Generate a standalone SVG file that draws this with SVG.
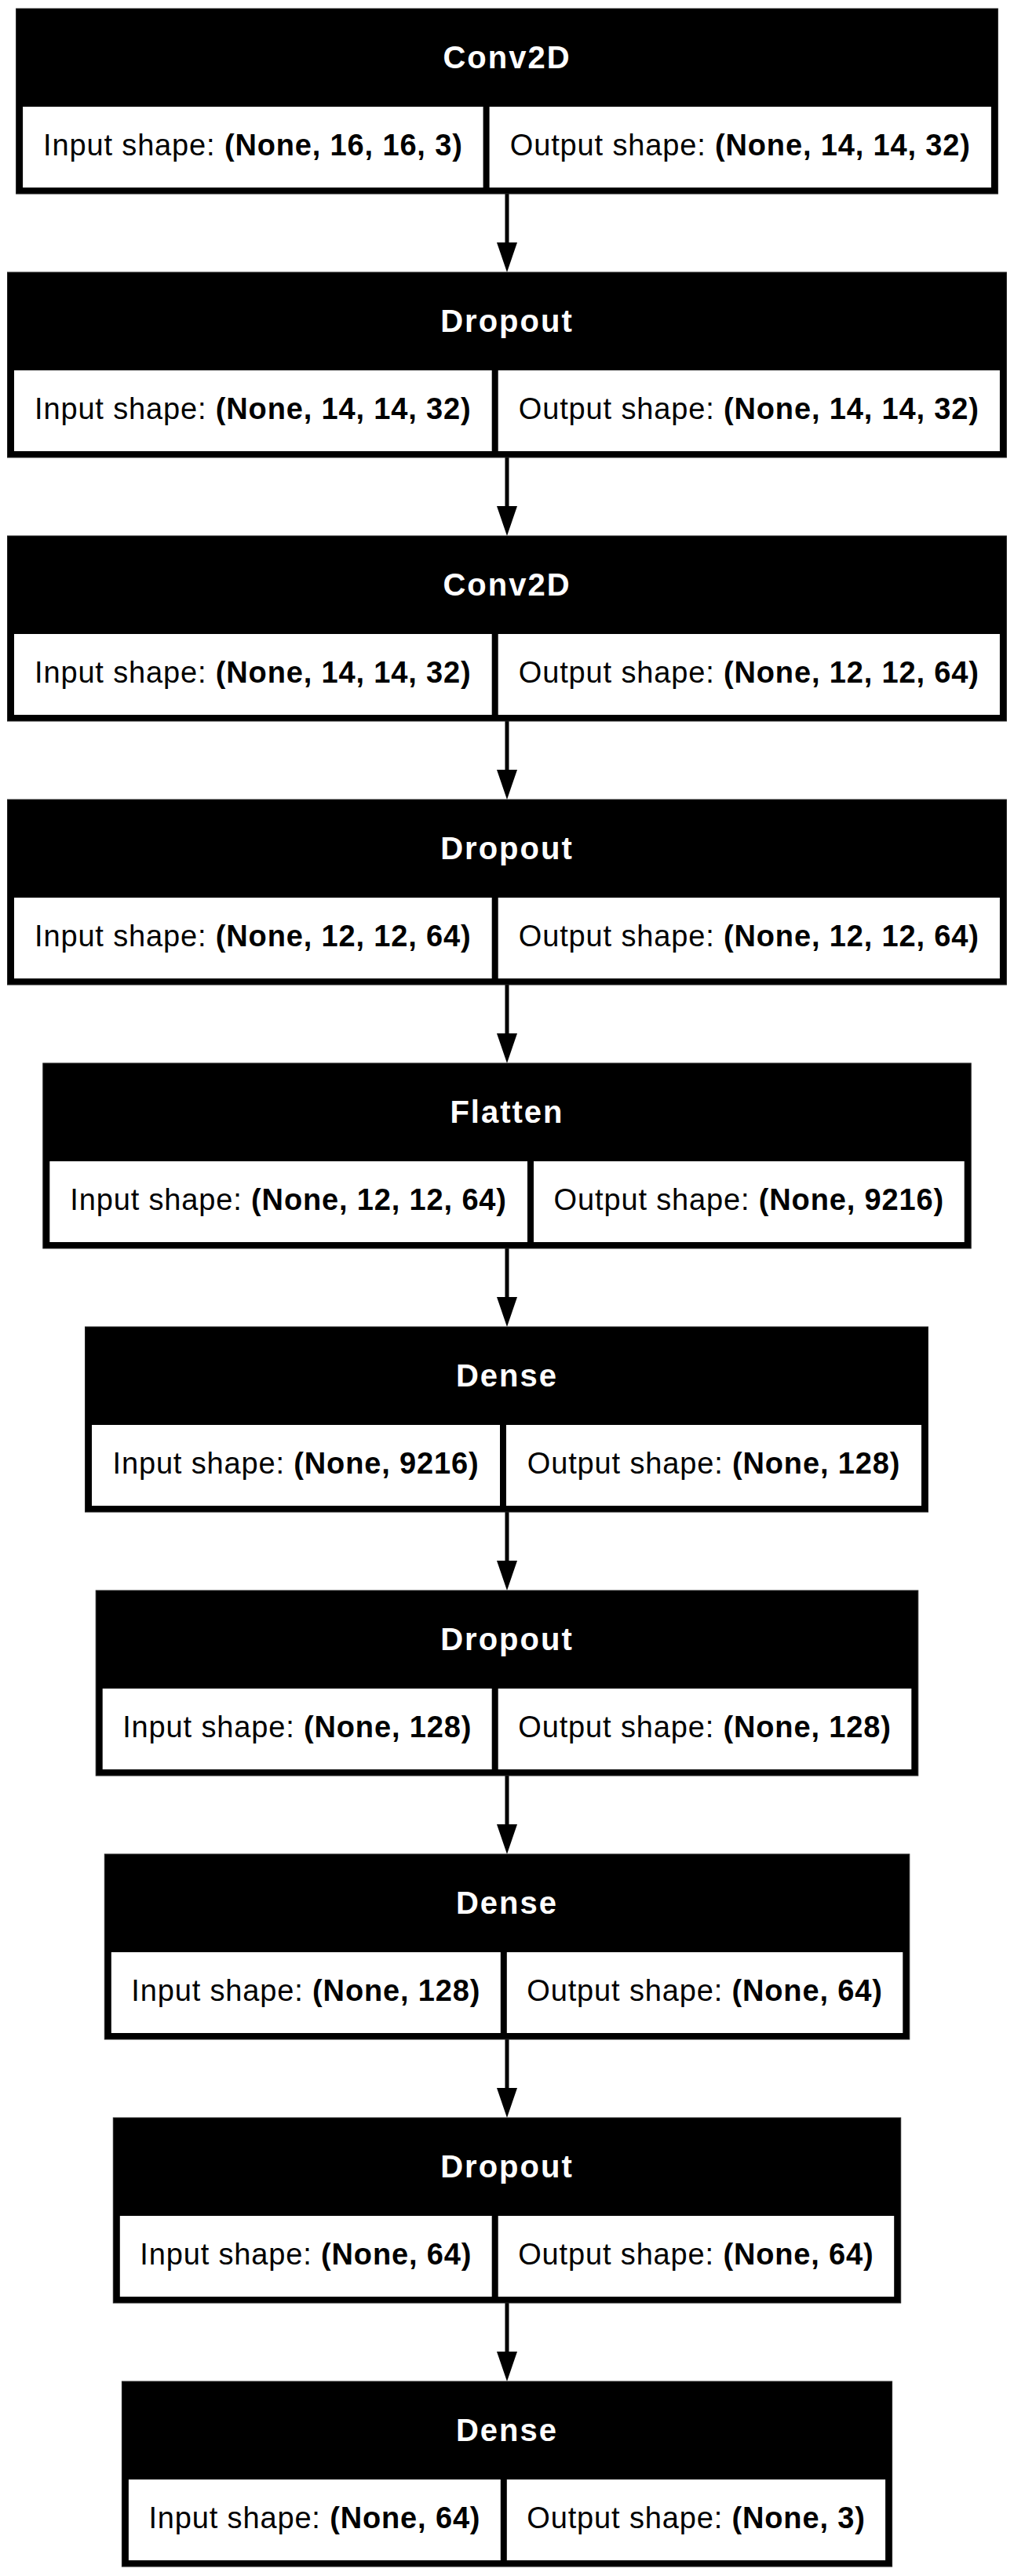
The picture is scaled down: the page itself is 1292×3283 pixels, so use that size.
<svg xmlns="http://www.w3.org/2000/svg" width="1292" height="3283" viewBox="0 0 1292 3283">
<defs>
<style>
.frame{fill:#000;stroke:#222;stroke-width:1}
.cell{fill:#fff}
.hd{fill:#fff;font-family:"Liberation Sans",Arial,sans-serif;font-weight:bold;font-size:40px;letter-spacing:2px;text-anchor:middle}
.tx{fill:#000;font-family:"Liberation Sans",Arial,sans-serif;font-size:38px;letter-spacing:0.85px;text-anchor:middle}
.b{font-weight:bold}
.edge{stroke:#000;stroke-width:5;fill:none;marker-end:url(#ah)}
</style>
<marker id="ah" markerUnits="userSpaceOnUse" markerWidth="38" markerHeight="26" viewBox="0 0 38 26" refX="0" refY="13" orient="auto">
<path d="M0,0 L38,13 L0,26 Z" fill="#000"/>
</marker>
</defs>
<rect width="1292" height="3283" fill="#fff"/>
<g id="edges">
<line id="e1" class="edge" x1="646" y1="247" x2="646" y2="309"/>
<line id="e2" class="edge" x1="646" y1="583" x2="646" y2="645"/>
<line id="e3" class="edge" x1="646" y1="919" x2="646" y2="981"/>
<line id="e4" class="edge" x1="646" y1="1255" x2="646" y2="1317"/>
<line id="e5" class="edge" x1="646" y1="1591" x2="646" y2="1653"/>
<line id="e6" class="edge" x1="646" y1="1927" x2="646" y2="1989"/>
<line id="e7" class="edge" x1="646" y1="2263" x2="646" y2="2325"/>
<line id="e8" class="edge" x1="646" y1="2599" x2="646" y2="2661"/>
<line id="e9" class="edge" x1="646" y1="2935" x2="646" y2="2997"/>
</g>
<g id="n1">
<rect class="frame" x="20.6" y="11" width="1250.8" height="236"/>
<rect class="cell" x="29.1" y="136" width="586.5" height="103"/>
<rect class="cell" x="623.6" y="136" width="639.3" height="103"/>
<text class="hd" x="646" y="87">Conv2D</text>
<text class="tx" x="322.4" y="198">Input shape: <tspan class="b">(None, 16, 16, 3)</tspan></text>
<text class="tx" x="943.3" y="198">Output shape: <tspan class="b">(None, 14, 14, 32)</tspan></text>
</g>
<g id="n2">
<rect class="frame" x="9.5" y="347" width="1272.9" height="236"/>
<rect class="cell" x="18" y="472" width="608.7" height="103"/>
<rect class="cell" x="634.7" y="472" width="639.2" height="103"/>
<text class="hd" x="646" y="423">Dropout</text>
<text class="tx" x="322.3" y="534">Input shape: <tspan class="b">(None, 14, 14, 32)</tspan></text>
<text class="tx" x="954.3" y="534">Output shape: <tspan class="b">(None, 14, 14, 32)</tspan></text>
</g>
<g id="n3">
<rect class="frame" x="9.5" y="683" width="1272.9" height="236"/>
<rect class="cell" x="18" y="808" width="608.7" height="103"/>
<rect class="cell" x="634.7" y="808" width="639.2" height="103"/>
<text class="hd" x="646" y="759">Conv2D</text>
<text class="tx" x="322.3" y="870">Input shape: <tspan class="b">(None, 14, 14, 32)</tspan></text>
<text class="tx" x="954.3" y="870">Output shape: <tspan class="b">(None, 12, 12, 64)</tspan></text>
</g>
<g id="n4">
<rect class="frame" x="9.5" y="1019" width="1272.9" height="236"/>
<rect class="cell" x="18" y="1144" width="608.7" height="103"/>
<rect class="cell" x="634.7" y="1144" width="639.2" height="103"/>
<text class="hd" x="646" y="1095">Dropout</text>
<text class="tx" x="322.3" y="1206">Input shape: <tspan class="b">(None, 12, 12, 64)</tspan></text>
<text class="tx" x="954.3" y="1206">Output shape: <tspan class="b">(None, 12, 12, 64)</tspan></text>
</g>
<g id="n5">
<rect class="frame" x="54.8" y="1355" width="1182.4" height="236"/>
<rect class="cell" x="63.3" y="1480" width="608.7" height="103"/>
<rect class="cell" x="680" y="1480" width="548.7" height="103"/>
<text class="hd" x="646" y="1431">Flatten</text>
<text class="tx" x="367.6" y="1542">Input shape: <tspan class="b">(None, 12, 12, 64)</tspan></text>
<text class="tx" x="954.3" y="1542">Output shape: <tspan class="b">(None, 9216)</tspan></text>
</g>
<g id="n6">
<rect class="frame" x="108.5" y="1691" width="1074" height="236"/>
<rect class="cell" x="117" y="1816" width="520" height="103"/>
<rect class="cell" x="645" y="1816" width="529" height="103"/>
<text class="hd" x="646" y="1767">Dense</text>
<text class="tx" x="377" y="1878">Input shape: <tspan class="b">(None, 9216)</tspan></text>
<text class="tx" x="909.5" y="1878">Output shape: <tspan class="b">(None, 128)</tspan></text>
</g>
<g id="n7">
<rect class="frame" x="122.2" y="2027" width="1047.6" height="236"/>
<rect class="cell" x="130.7" y="2152" width="496" height="103"/>
<rect class="cell" x="634.7" y="2152" width="526.6" height="103"/>
<text class="hd" x="646" y="2103">Dropout</text>
<text class="tx" x="378.7" y="2214">Input shape: <tspan class="b">(None, 128)</tspan></text>
<text class="tx" x="898" y="2214">Output shape: <tspan class="b">(None, 128)</tspan></text>
</g>
<g id="n8">
<rect class="frame" x="133.3" y="2363" width="1025.5" height="236"/>
<rect class="cell" x="141.8" y="2488" width="496" height="103"/>
<rect class="cell" x="645.8" y="2488" width="504.5" height="103"/>
<text class="hd" x="646" y="2439">Dense</text>
<text class="tx" x="389.8" y="2550">Input shape: <tspan class="b">(None, 128)</tspan></text>
<text class="tx" x="898" y="2550">Output shape: <tspan class="b">(None, 64)</tspan></text>
</g>
<g id="n9">
<rect class="frame" x="144.3" y="2699" width="1003.4" height="236"/>
<rect class="cell" x="152.8" y="2824" width="473.9" height="103"/>
<rect class="cell" x="634.7" y="2824" width="504.5" height="103"/>
<text class="hd" x="646" y="2775">Dropout</text>
<text class="tx" x="389.8" y="2886">Input shape: <tspan class="b">(None, 64)</tspan></text>
<text class="tx" x="886.9" y="2886">Output shape: <tspan class="b">(None, 64)</tspan></text>
</g>
<g id="n10">
<rect class="frame" x="155.4" y="3035" width="981.2" height="236"/>
<rect class="cell" x="163.9" y="3160" width="473.9" height="103"/>
<rect class="cell" x="645.8" y="3160" width="482.3" height="103"/>
<text class="hd" x="646" y="3111">Dense</text>
<text class="tx" x="400.9" y="3222">Input shape: <tspan class="b">(None, 64)</tspan></text>
<text class="tx" x="887" y="3222">Output shape: <tspan class="b">(None, 3)</tspan></text>
</g>
</svg>
